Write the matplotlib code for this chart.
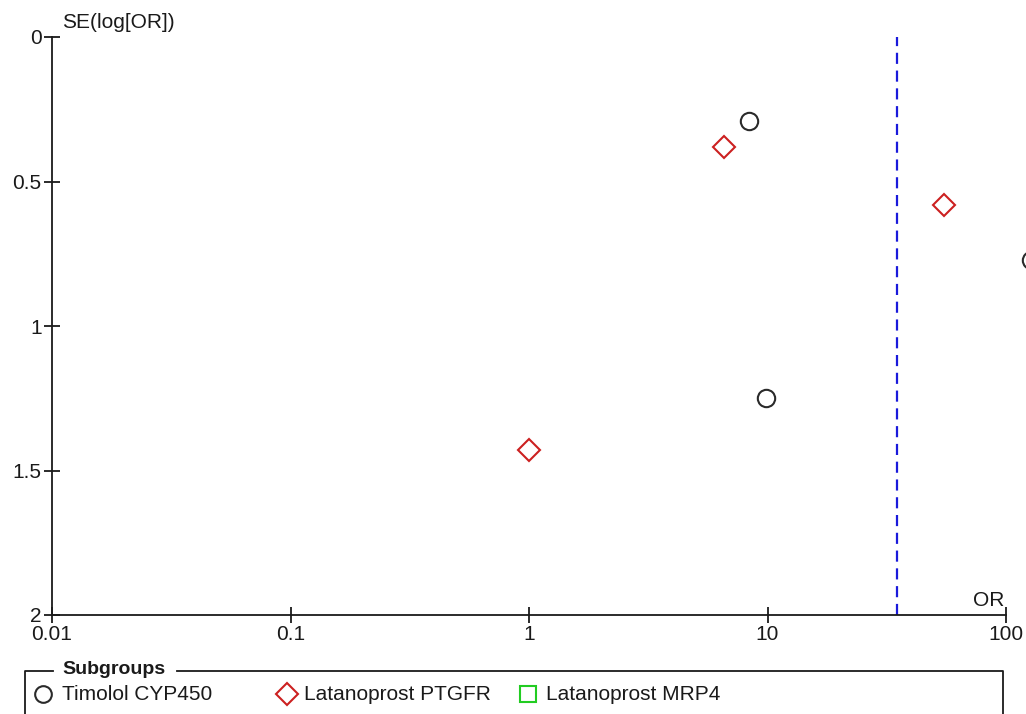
import matplotlib
matplotlib.use("Agg")
import matplotlib.pyplot as plt

plt.rcParams['font.family'] = ['Liberation Sans', 'DejaVu Sans']

# Study estimates: odds ratio and standard error of log(OR)
timolol_or = [8.4, 9.9, 127.0]
timolol_se = [0.29, 1.25, 0.77]
ptgfr_or = [6.6, 55.0, 1.0]
ptgfr_se = [0.38, 0.58, 1.43]
mrp4_or = []
mrp4_se = []
pooled_or = 35.0

x_ticks = [0.01, 0.1, 1, 10, 100]
x_tick_labels = ["0.01", "0.1", "1", "10", "100"]
y_ticks = [0, 0.5, 1, 1.5, 2]
y_tick_labels = ["0", "0.5", "1", "1.5", "2"]
group_names = ["Timolol CYP450", "Latanoprost PTGFR", "Latanoprost MRP4"]

FS = 15
INK = "#1a1a1a"

W, H = 1026, 714
fig = plt.figure(figsize=(W / 100, H / 100), dpi=100)
ax = fig.add_axes([52 / W, 1 - 615 / H, (1006 - 52) / W, (615 - 37) / H])

ax.set_xscale("log")
ax.set_xlim(0.01, 100)
ax.set_ylim(2, 0)

ax.axvline(pooled_or, color="#1a1adb", lw=1.6, dashes=(5, 3), zorder=1)

ax.plot(timolol_or, timolol_se, linestyle="none", marker="o", ms=12.5,
        mfc="none", mec="#2a2a2a", mew=1.5, clip_on=False, zorder=3)
ax.plot(ptgfr_or, ptgfr_se, linestyle="none", marker="D", ms=11.5,
        mfc="none", mec="#cc2020", mew=1.5, clip_on=False, zorder=3)
ax.plot(mrp4_or, mrp4_se, linestyle="none", marker="s", ms=12,
        mfc="none", mec="#22cc22", mew=1.5, clip_on=False, zorder=3)

for s in ("top", "right"):
    ax.spines[s].set_visible(False)
for s in ("left", "bottom"):
    ax.spines[s].set_linewidth(1.3)
    ax.spines[s].set_color(INK)

ax.set_xticks(x_ticks)
ax.set_xticklabels(x_tick_labels)
ax.xaxis.set_minor_locator(matplotlib.ticker.NullLocator())
ax.set_yticks(y_ticks)
ax.set_yticklabels(y_tick_labels)
ax.tick_params(axis="both", direction="inout", length=11, width=1.3,
               labelsize=FS, colors=INK)
ax.tick_params(axis="x", pad=2)
ax.tick_params(axis="y", pad=2)

fig.text(62 / W, 1 - 22 / H, "SE(log[OR])", fontsize=FS, va="center",
         ha="left", color=INK)
fig.text(1004 / W, 1 - 600 / H, "OR", fontsize=FS, va="center", ha="right",
         color=INK)

# Subgroup legend drawn in pixel coordinates
lg = fig.add_axes([0, 0, 1, 1])
lg.set_xlim(0, W)
lg.set_ylim(H, 0)
lg.axis("off")
lg.patch.set_alpha(0)

lg.plot([25, 25, 53], [H + 5, 671, 671], color=INK, lw=1.3)
lg.plot([177, 1003, 1003], [671, 671, H + 5], color=INK, lw=1.3)
lg.text(62, 670, "Subgroups", fontsize=14, fontweight="bold", va="center",
        ha="left", color=INK)

entries = [
    (43, "o", "#2a2a2a", 62, group_names[0], 12),
    (287, "D", "#cc2020", 304, group_names[1], 11.5),
    (528, "s", "#22cc22", 546, group_names[2], 12),
]
for mx, mk, col, tx, name, ms in entries:
    lg.plot([mx], [694], linestyle="none", marker=mk, ms=ms, mfc="none",
            mec=col, mew=1.5)
    lg.text(tx, 694, name, fontsize=FS, va="center", ha="left", color=INK)

fig.savefig("out.png", dpi=100)
